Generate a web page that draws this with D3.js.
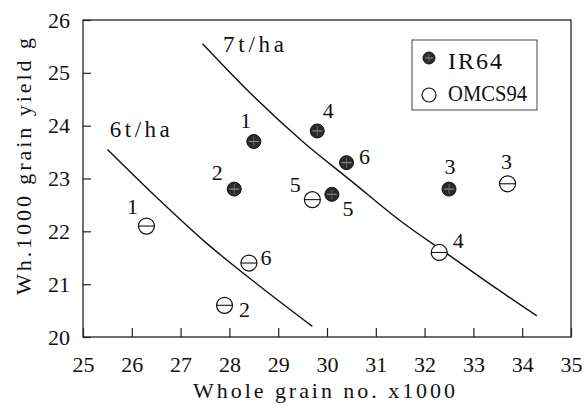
<!DOCTYPE html>
<head>
<meta charset="utf-8">
<title>Grain yield</title>
<script src="https://cdn.jsdelivr.net/npm/d3@7"></script>
</head>
<style>
body { margin: 0; background: #fff; }
svg text { font-family: "Liberation Serif", "Times New Roman", Times, serif; fill: #111; }
.axis line { stroke: #222; stroke-width: 1.2px; }
svg text.title { font-size: 22px; }
.curve { fill: none; stroke: #111; stroke-width: 1.4px; }
svg text.lab { font-size: 22px; }
svg text.iso { font-size: 23px; }
svg text.leg { font-size: 24px; }
</style>
<body>
<svg id="svg" width="586" height="404"></svg>
<script>

// data
var ir64_x = [28.5, 28.1, 32.5, 29.8, 30.1, 30.4];
var ir64_y = [23.7, 22.8, 22.8, 23.9, 22.7, 23.3];
var omcs_x = [26.3, 27.9, 33.7, 32.3, 29.7, 28.4];
var omcs_y = [22.1, 20.6, 22.9, 21.6, 22.6, 21.4];
var point_ids = ["1", "2", "3", "4", "5", "6"];

var curve6_x = [25.5, 26.5, 27.5, 28.5, 29.7];
var curve6_y = [23.55, 22.65, 21.8, 21.05, 20.2];
var curve7_x = [27.45, 28.5, 29.5, 30.5, 31.5, 32.5, 33.5, 34.3];
var curve7_y = [25.55, 24.55, 23.7, 22.95, 22.2, 21.55, 20.9, 20.4];

var x_ticks = [25, 26, 27, 28, 29, 30, 31, 32, 33, 34, 35];
var y_ticks = [20, 21, 22, 23, 24, 25, 26];

// label offsets (px) for the numbers next to each point
var ir64_off = [[-8, -14], [-17, -9], [1, -15], [11, -13], [16, 22], [18, 1]];
var omcs_off = [[-14, -12], [20, 12], [-1, -15], [19, -4], [-17, -8], [17, 2]];

var svg = d3.select("svg");

var x = d3.scaleLinear().domain([25, 35]).range([83, 571]);
var y = d3.scaleLinear().domain([20, 26]).range([337, 20]);

var fmt = d3.format("d");

svg.append("g")
    .attr("class", "axis")
    .attr("transform", "translate(0,337)")
    .call(d3.axisBottom(x).tickValues(x_ticks).tickFormat(fmt).tickSizeInner(-9).tickSizeOuter(0).tickPadding(19))
    .call(function(g) { g.select(".domain").remove(); });

svg.append("g")
    .attr("class", "axis")
    .attr("transform", "translate(83,0)")
    .call(d3.axisLeft(y).tickValues(y_ticks).tickFormat(fmt).tickSizeInner(-8).tickSizeOuter(0).tickPadding(13))
    .call(function(g) { g.select(".domain").remove(); });

svg.selectAll(".axis")
    .attr("font-family", null)
    .attr("font-size", null);
svg.selectAll(".axis .tick text")
    .attr("class", "lab")
    .attr("fill", "#111");

// frame
svg.append("rect")
    .attr("x", x(25)).attr("y", y(26))
    .attr("width", x(35) - x(25)).attr("height", y(20) - y(26))
    .attr("fill", "none").attr("stroke", "#222").attr("stroke-width", 1.3);

// iso-yield curves
var line = d3.line()
    .x(function(d) { return x(d[0]); })
    .y(function(d) { return y(d[1]); })
    .curve(d3.curveMonotoneX);

svg.append("path").attr("class", "curve").attr("d", line(d3.zip(curve6_x, curve6_y)));
svg.append("path").attr("class", "curve").attr("d", line(d3.zip(curve7_x, curve7_y)));

svg.append("text").attr("class", "iso").attr("x", x(25.55)).attr("y", y(23.78))
    .attr("textLength", 60).attr("lengthAdjust", "spacing").text("6t/ha");
svg.append("text").attr("class", "iso").attr("x", x(27.87)).attr("y", y(25.39))
    .attr("textLength", 61).attr("lengthAdjust", "spacing").text("7t/ha");

// markers
function darkDot(g, cx, cy, r) {
  g.append("circle").attr("cx", cx).attr("cy", cy).attr("r", r)
      .attr("fill", "#2b2b2b").attr("stroke", "#111").attr("stroke-width", 1);
  g.append("line").attr("x1", cx - r + 2).attr("x2", cx + r - 2).attr("y1", cy).attr("y2", cy)
      .attr("stroke", "#9a9a9a").attr("stroke-width", 1);
  g.append("line").attr("x1", cx).attr("x2", cx).attr("y1", cy - r + 2).attr("y2", cy + r - 2)
      .attr("stroke", "#777").attr("stroke-width", 0.8);
}

function openDot(g, cx, cy, r, bar) {
  g.append("circle").attr("cx", cx).attr("cy", cy).attr("r", r)
      .attr("fill", "#fff").attr("stroke", "#111").attr("stroke-width", 1.2);
  if (bar)
    g.append("line").attr("x1", cx - r).attr("x2", cx + r).attr("y1", cy).attr("y2", cy)
        .attr("stroke", "#111").attr("stroke-width", 1.1);
}

var pts = svg.append("g");

omcs_x.forEach(function(v, i) {
  var cx = x(v), cy = y(omcs_y[i]);
  openDot(pts, cx, cy, 8, true);
  pts.append("text").attr("class", "lab")
      .attr("x", cx + omcs_off[i][0]).attr("y", cy + omcs_off[i][1])
      .attr("text-anchor", "middle").text(point_ids[i]);
});

ir64_x.forEach(function(v, i) {
  var cx = x(v), cy = y(ir64_y[i]);
  darkDot(pts, cx, cy, 7);
  pts.append("text").attr("class", "lab")
      .attr("x", cx + ir64_off[i][0]).attr("y", cy + ir64_off[i][1])
      .attr("text-anchor", "middle").text(point_ids[i]);
});

// legend
var leg = svg.append("g");
leg.append("rect").attr("x", 412).attr("y", 40).attr("width", 125).attr("height", 70)
    .attr("fill", "#fff").attr("stroke", "#444").attr("stroke-width", 1);
darkDot(leg, 429, 58, 6);
openDot(leg, 429, 95, 7, false);
leg.append("text").attr("class", "leg").attr("x", 448).attr("y", 69)
    .attr("textLength", 54).attr("lengthAdjust", "spacing").text("IR64");
leg.append("text").attr("class", "leg").attr("x", 448).attr("y", 101)
    .attr("textLength", 79).attr("lengthAdjust", "spacingAndGlyphs").text("OMCS94");

// axis titles
svg.append("text").attr("class", "title")
    .attr("x", 193).attr("y", 398)
    .attr("textLength", 262).attr("lengthAdjust", "spacing")
    .text("Whole grain no. x1000");

svg.append("text").attr("class", "title")
    .attr("transform", "translate(31,295) rotate(-90)")
    .attr("textLength", 257).attr("lengthAdjust", "spacing")
    .text("Wh.1000 grain yield g");

</script>
</body>
